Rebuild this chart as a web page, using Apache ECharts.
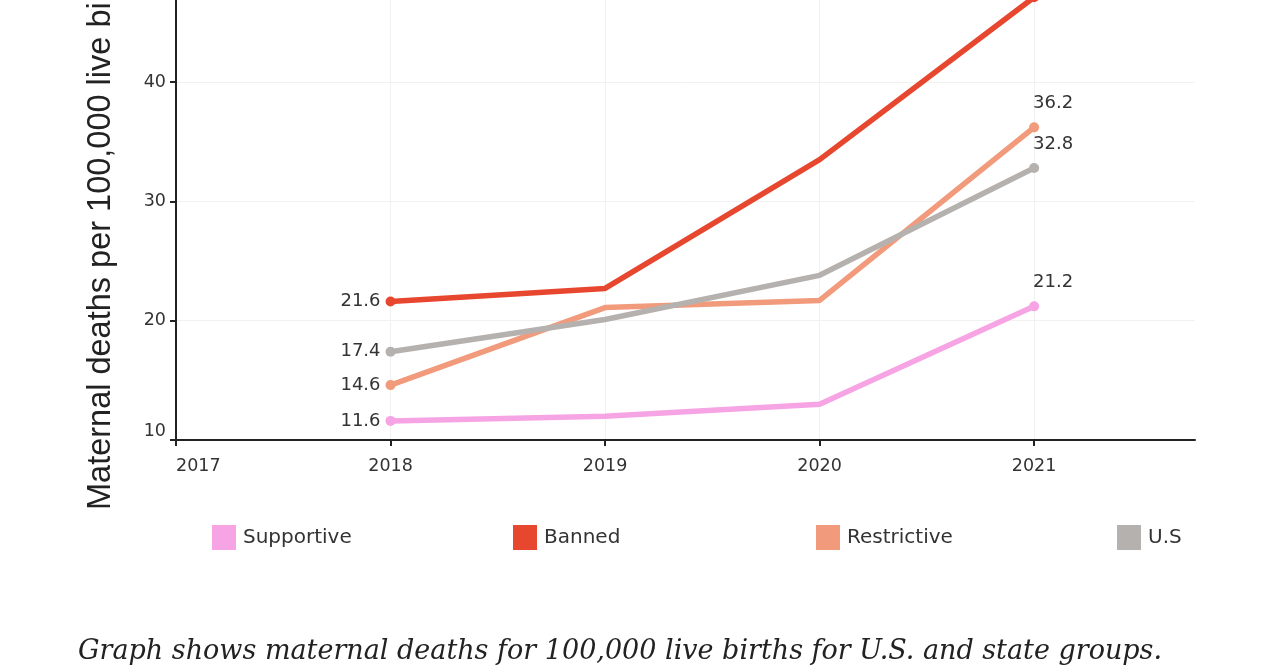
<!DOCTYPE html>
<html>
<head>
<meta charset="utf-8">
<script src="https://cdn.jsdelivr.net/npm/echarts@6/dist/echarts.min.js"></script>
<style>
html,body{margin:0;padding:0;background:#fff;overflow:hidden;width:1280px;height:672px;position:relative;}
#chart{position:absolute;left:0;top:-40px;width:1280px;height:712px;}
</style>
</head>
<body>
<div id="chart"></div>
<script>
const years = [2018, 2019, 2020, 2021];
const seriesNames = ['Supportive', 'Banned', 'Restrictive', 'U.S'];
const supportive = [11.6, 12.0, 13.0, 21.2];
const banned = [21.6, 22.7, 33.5, 47.1];
const restrictive = [14.6, 21.1, 21.7, 36.2];
const us = [17.4, 20.1, 23.8, 32.8];
const yTicks = [10, 20, 30, 40, 50];
const xTickYears = [2017, 2018, 2019, 2020, 2021];
const yAxisTitle = 'Maternal deaths per 100,000 live births';
const caption = 'Graph shows maternal deaths for 100,000 live births for U.S. and state groups.';

const OFF = 40; // container shifted up by this many px
const colors = ['#f7a4e4', '#e8472f', '#f29b7c', '#b5b1af'];
const values = [supportive, banned, restrictive, us];
const FONT = 'DejaVu Sans, sans-serif';

function buildData(vals, labelFirst, labelLast) {
  return vals.map((v, i) => {
    const item = { value: [years[i], v] };
    const isEnd = (i === 0 || i === vals.length - 1);
    if (!isEnd) item.symbolSize = 0;
    if (labelFirst && i === 0) {
      item.label = { show: true, position: 'left', distance: 5 };
    } else if (labelLast && i === vals.length - 1) {
      item.label = { show: true, position: 'top', align: 'left', distance: 10, offset: [-1, 0] };
    }
    return item;
  });
}

const series = seriesNames.map((name, k) => ({
  name: name,
  type: 'line',
  data: buildData(values[k], true, k !== 1),
  color: colors[k],
  lineStyle: { width: 5.5, color: colors[k] },
  itemStyle: { color: colors[k] },
  symbol: 'circle',
  symbolSize: 10,
  showSymbol: true,
  label: { show: false, color: '#333', fontSize: 18, fontFamily: FONT, formatter: p => p.value[1].toFixed(1) },
  z: k === 1 ? 3 : 2
}));

const legendLefts = [212, 513, 816, 1117];
const legends = seriesNames.map((name, k) => ({
  data: [name],
  left: legendLefts[k],
  top: 525 + OFF,
  padding: 0,
  icon: 'rect',
  itemWidth: 24,
  itemHeight: 25,
  itemGap: 0,
  textStyle: { fontSize: 20, color: '#333', fontFamily: FONT, padding: [3, 0, 0, 2] },
  selectedMode: false
}));

const chart = echarts.init(document.getElementById('chart'), null, { renderer: 'canvas' });
chart.setOption({
  animation: false,
  backgroundColor: '#fff',
  grid: { left: 176, right: 85, top: OFF - 37.3, bottom: 232, containLabel: false, outerBoundsMode: 'none' },
  xAxis: {
    type: 'value',
    min: xTickYears[0],
    max: 2021.75,
    interval: 1,
    axisLine: { show: true, lineStyle: { color: '#222', width: 2 } },
    axisTick: { show: true, length: 6, lineStyle: { color: '#222', width: 2 }, customValues: xTickYears },
    axisLabel: {
      color: '#333', fontSize: 17.5, fontFamily: FONT, margin: 17,
      alignMinLabel: 'left', customValues: xTickYears,
      formatter: v => String(v)
    },
    splitLine: { show: true, lineStyle: { color: '#f1f1f1', width: 1 } }
  },
  yAxis: {
    type: 'value',
    min: yTicks[0],
    max: yTicks[yTicks.length - 1],
    interval: 10,
    axisLine: { show: true, lineStyle: { color: '#222', width: 2 } },
    axisTick: { show: true, length: 6, lineStyle: { color: '#222', width: 2 } },
    axisLabel: { color: '#333', fontSize: 17.5, fontFamily: FONT, margin: 10, verticalAlignMinLabel: 'bottom' },
    splitLine: { show: true, lineStyle: { color: '#f1f1f1', width: 1 } }
  },
  legend: legends,
  series: series,
  graphic: [
    {
      type: 'text',
      x: 101, y: 510 + OFF,
      rotation: Math.PI / 2,
      style: { text: yAxisTitle, fontSize: 32.5, fontFamily: 'Liberation Sans, Arial, sans-serif', fill: '#222', align: 'left', verticalAlign: 'middle' }
    },
    {
      type: 'text',
      x: 78, y: 652 + OFF,
      style: { text: caption, fontSize: 27, fontStyle: 'italic', fontFamily: 'DejaVu Serif, serif', fill: '#222', align: 'left', verticalAlign: 'middle' }
    }
  ]
});
</script>
</body>
</html>
